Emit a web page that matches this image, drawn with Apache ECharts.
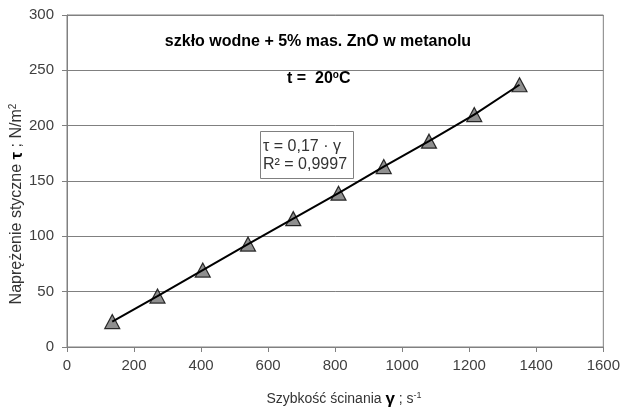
<!DOCTYPE html>
<html>
<head>
<meta charset="utf-8">
<script src="https://cdn.jsdelivr.net/npm/echarts@6/dist/echarts.min.js"></script>
<style>
  html, body { margin: 0; padding: 0; background: #fff; }
  #chart { width: 623px; height: 409px; }
</style>
</head>
<body>
<div id="chart"></div>
<script>
// Shear rate (1/s) and shear stress (N/m^2) measurements
const shearRate = [135, 270, 405, 540, 675, 810, 945, 1080, 1215, 1350];
const shearStress = [23, 46, 69.5, 93, 116, 139, 163, 186, 210, 237];
const xTicks = { min: 0, max: 1600, step: 200 };
const yTicks = { min: 0, max: 300, step: 50 };

const points = shearRate.map((x, i) => [x, shearStress[i]]);
const FONT = '"Liberation Sans", Arial, sans-serif';

const chart = echarts.init(document.getElementById('chart'), null, { renderer: 'canvas' });
chart.setOption({
  animation: false,
  backgroundColor: '#ffffff',
  grid: {
    left: 67, right: 19, top: 15, bottom: 62,
    show: true, borderColor: '#808080', borderWidth: 1
  },
  xAxis: {
    type: 'value',
    min: xTicks.min, max: xTicks.max, interval: xTicks.step,
    axisLine: { show: true, lineStyle: { color: '#808080', width: 1 } },
    axisTick: { show: true, inside: false, length: 5, lineStyle: { color: '#808080' } },
    splitLine: { show: false },
    axisLabel: {
      color: '#404040', fontSize: 15, fontFamily: FONT, margin: 11,
      formatter: v => String(v)
    }
  },
  yAxis: {
    type: 'value',
    min: yTicks.min, max: yTicks.max, interval: yTicks.step,
    axisLine: { show: true, lineStyle: { color: '#808080', width: 1 } },
    axisTick: { show: true, inside: false, length: 5, lineStyle: { color: '#808080' } },
    splitLine: { show: true, lineStyle: { color: '#808080', width: 1 } },
    axisLabel: {
      color: '#404040', fontSize: 15, fontFamily: FONT, margin: 13,
      formatter: v => String(v)
    }
  },
  series: [
    {
      name: 'pomiary',
      type: 'scatter',
      data: points,
      symbol: 'triangle',
      symbolSize: [15, 14],
      itemStyle: { color: '#737373', borderColor: '#000000', borderWidth: 1.2 },
      z: 2
    },
    {
      name: 'linia trendu',
      type: 'line',
      data: points,
      showSymbol: false,
      lineStyle: { color: '#000000', width: 2 },
      z: 3
    }
  ],
  graphic: [
    {
      type: 'text', position: [318, 42],
      style: {
        text: 'szkło wodne + 5% mas. ZnO w metanolu',
        fontFamily: FONT, fontSize: 16, fontWeight: 'bold', fill: '#000',
        align: 'center', verticalAlign: 'middle'
      }
    },
    {
      type: 'text', position: [287, 79],
      style: {
        rich: {
          b: { fontFamily: FONT, fontSize: 16, fontWeight: 'bold', fill: '#000' },
          sup: { fontFamily: FONT, fontSize: 10, fontWeight: 'bold', fill: '#000', verticalAlign: 'bottom', padding: [0, 0, 8, 0] }
        },
        text: '{b|t =  20}{sup|o}{b|C}',
        verticalAlign: 'middle'
      }
    },
    {
      type: 'rect', shape: { x: 260.5, y: 131.5, width: 93, height: 47 },
      style: { fill: '#ffffff', stroke: '#808080', lineWidth: 1 }, z: 10
    },
    {
      type: 'text', position: [263, 147], z: 11,
      style: {
        text: 'τ = 0,17 · γ', fontFamily: FONT, fontSize: 16, fill: '#333',
        verticalAlign: 'middle'
      }
    },
    {
      type: 'text', position: [263, 165], z: 11,
      style: {
        text: 'R² = 0,9997', fontFamily: FONT, fontSize: 16, fill: '#333',
        verticalAlign: 'middle'
      }
    },
    {
      type: 'text', position: [17, 204], rotation: Math.PI / 2,
      style: {
        rich: {
          n: { fontFamily: FONT, fontSize: 16, fill: '#333' },
          g: { fontFamily: FONT, fontSize: 17, fontWeight: 'bold', fill: '#000' },
          sup: { fontFamily: FONT, fontSize: 10, fill: '#333', verticalAlign: 'bottom', padding: [0, 0, 8, 0] }
        },
        text: '{n|Naprężenie styczne }{g|τ}{n| ; N/m}{sup|2}',
        align: 'center', verticalAlign: 'middle'
      }
    },
    {
      type: 'text', position: [344, 399],
      style: {
        rich: {
          n: { fontFamily: FONT, fontSize: 14, fill: '#333' },
          g: { fontFamily: FONT, fontSize: 17, fontWeight: 'bold', fill: '#000' },
          sup: { fontFamily: FONT, fontSize: 9, fill: '#333', verticalAlign: 'bottom', padding: [0, 0, 7, 0] }
        },
        text: '{n|Szybkość ścinania }{g|γ}{n| ; s}{sup|-1}',
        align: 'center', verticalAlign: 'middle'
      }
    }
  ]
});
</script>
</body>
</html>
